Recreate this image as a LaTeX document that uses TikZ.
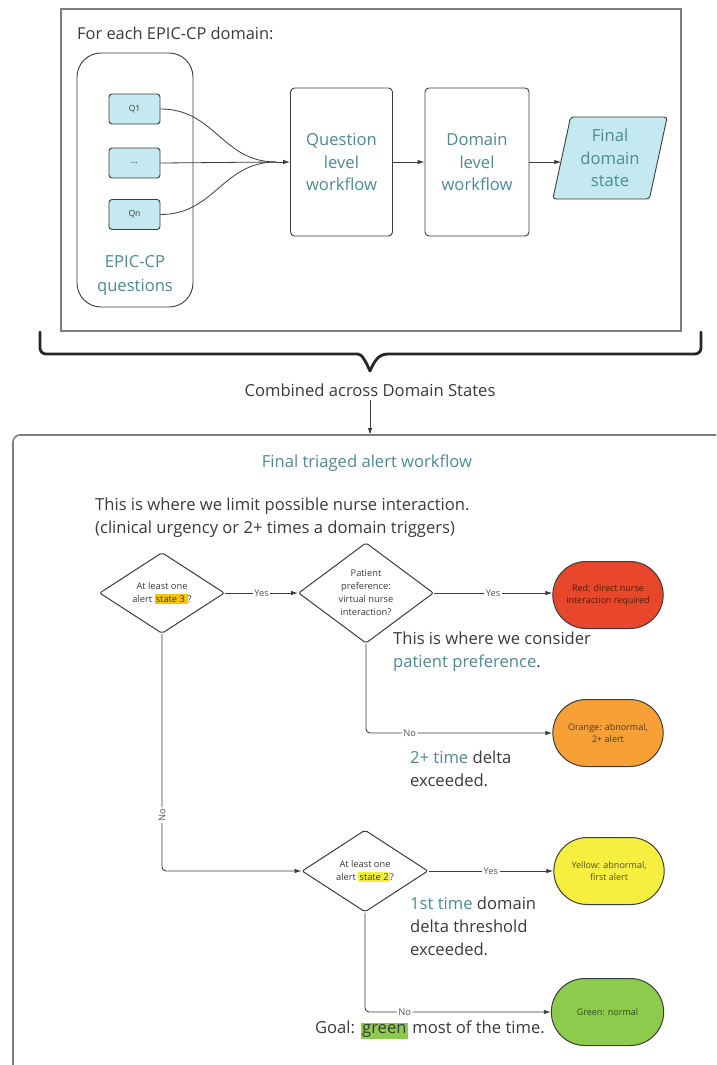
\documentclass[tikz,border=0pt]{standalone}
\usepackage{fontspec}
\setmainfont{Open Sans}
\usetikzlibrary{shapes.geometric,shapes.misc,arrows.meta,calc}
\definecolor{tealtxt}{RGB}{78,138,148}
\definecolor{darktxt}{RGB}{58,58,58}
\definecolor{linec}{RGB}{60,60,60}
\definecolor{boxgray}{RGB}{125,125,125}
\definecolor{cyanfill}{RGB}{196,233,240}
\definecolor{redfill}{RGB}{232,71,43}
\definecolor{orangefill}{RGB}{247,160,53}
\definecolor{yellowfill}{RGB}{247,239,63}
\definecolor{greenfill}{RGB}{140,203,75}
\definecolor{goldhl}{RGB}{247,198,0}
\definecolor{labelc}{RGB}{85,85,85}
\newcommand{\hlbox}[2]{{\setlength{\fboxsep}{1.2pt}\colorbox{#1}{#2}}}
\begin{document}
\begin{tikzpicture}[x=1pt,y=-1pt,
  qbox/.style={draw=linec, line width=0.9pt, fill=cyanfill, rounded corners=3pt, minimum width=51pt, minimum height=30pt, inner sep=0pt, font=\fontsize{8.5}{9}\selectfont, text=darktxt},
  wfbox/.style={draw=linec, line width=0.9pt, rounded corners=4pt, minimum width=102pt, minimum height=148pt, align=center, text=tealtxt, font=\fontsize{16.6}{22.5}\selectfont},
  dia/.style={diamond, draw=linec, line width=1pt, rounded corners=2pt, inner sep=0pt, align=center, font=\fontsize{9.3}{13}\selectfont, text=darktxt},
  term/.style={rounded rectangle, draw=linec, line width=1pt, minimum width=117pt, minimum height=67pt, align=center, font=\fontsize{9}{12.5}\selectfont, text=black, text opacity=0.65},
  lbl/.style={fill=white, inner sep=1.5pt, font=\fontsize{9.3}{10}\selectfont, text=labelc},
  conn/.style={draw=linec, line width=0.9pt, -{Latex[length=7pt,width=4.5pt]}},
  plain/.style={draw=linec, line width=0.8pt},
  note/.style={align=left, text=darktxt, font=\fontsize{16.6}{23}\selectfont, inner sep=0pt}
]
\useasboundingbox (0,0) rectangle (716,1065);
\fill[white] (0,0) rectangle (716,1065);

% ---------- top panel ----------
\draw[boxgray, line width=1.6pt] (61,9) rectangle (681,331);
\node[anchor=west, text=darktxt, font=\fontsize{16.4}{18}\selectfont, inner sep=0pt] (title1) at (77,33) {For each EPIC-CP domain:};
\draw[linec, line width=0.9pt, rounded corners=24pt] (77,53) rectangle (193,307);
\node[qbox] (q1) at (134.5,109) {Q1};
\node[qbox] (qd) at (134.5,163) {...};
\node[qbox] (qn) at (134.5,214.5) {Qn};
\node[align=center, text=tealtxt, font=\fontsize{16.6}{24}\selectfont] (epq) at (135,275) {EPIC-CP\\questions};

\node[wfbox] (qlw) at (341.5,162) {Question\\level\\workflow};
\node[wfbox, minimum width=104pt] (dlw) at (477,162) {Domain\\level\\workflow};
\node[trapezium, trapezium left angle=77, trapezium right angle=103, trapezium stretches=true,
      draw=linec, line width=0.9pt, fill=cyanfill, rounded corners=3pt, minimum width=115pt, minimum height=82pt,
      align=center, text=tealtxt, font=\fontsize{16.6}{22.5}\selectfont] (fds) at (610,158) {Final\\domain\\state};

\coordinate (conv) at (276,162);
\draw[plain] (q1.east) .. controls (215,109) and (222,162) .. (conv);
\draw[plain] (qd.east) -- (conv);
\draw[plain] (qn.east) .. controls (215,214.5) and (222,162) .. (conv);
\draw[conn] (conv) -- (qlw.west);
\draw[conn] (qlw.east) -- (dlw.west);
\draw[conn] (dlw.east) -- (dlw.east -| fds.west);

% ---------- brace ----------
\draw[black!85, line width=2.8pt, line cap=round, line join=round]
  (40,332) [rounded corners=6pt] -- (40,354) -- (352,354) [sharp corners]
  .. controls (362,354) and (366,362) .. (370,371)
  .. controls (374,362) and (378,354) .. (388,354) [rounded corners=6pt]
  -- (701,354) -- (701,332);

\node[text=darktxt, font=\fontsize{16.6}{18}\selectfont] (comb) at (370,390) {Combined across Domain States};
\coordinate (btop) at (370,435);
\draw[conn] (comb.south) -- (btop);

% ---------- bottom panel ----------
\draw[boxgray, line width=1.6pt, rounded corners=7pt] (716,435) -- (13,435) -- (13,1066);
\node[text=tealtxt, font=\fontsize{16.6}{18}\selectfont] (ftaw) at (367,463) {Final triaged alert workflow};
\node[note, anchor=west] (lim) at (95,517.5) {This is where we limit possible nurse interaction.\\(clinical urgency or 2+ times a domain triggers)};

\node[dia, minimum width=125pt, minimum height=81pt] (d1) at (162,593) {At least one\\alert \hlbox{goldhl}{state 3\,}?};
\node[dia, minimum width=135pt, minimum height=99pt] (d2) at (366,593) {Patient\\preference:\\virtual nurse\\interaction?};
\node[dia, minimum width=126pt, minimum height=82pt] (d3) at (365,871) {At least one\\alert \hlbox{yellowfill}{state 2}?};

\node[term, fill=redfill] (red) at (608,595) {Red: direct nurse\\interaction required};
\node[term, fill=orangefill] (orange) at (608,733) {Orange: abnormal,\\2+ alert};
\node[term, fill=yellowfill] (yellow) at (609,871) {Yellow: abnormal,\\first alert};
\node[term, fill=greenfill, minimum width=119pt] (green) at (607.5,1012) {Green: normal};

\draw[conn] (d1.east) -- node[lbl] {Yes} (d2.west);
\draw[conn] (d2.east) -- node[lbl] {Yes} (d2.east -| red.west);
\draw[conn, rounded corners=4pt] (d2.south) |- node[lbl, pos=0.617] {No} (orange.west);
\draw[conn, rounded corners=4pt] (d1.south) |- node[lbl, pos=0.382, rotate=90] {No} (d3.west);
\draw[conn] (d3.east) -- node[lbl] {Yes} (yellow.west);
\draw[conn, rounded corners=4pt] (d3.south) |- node[lbl, pos=0.607] {No} (green.west);

% ---------- notes ----------
\node[note, anchor=west] (n1) at (393,651.5) {This is where we consider\\\textcolor{tealtxt}{patient preference}.};
\node[note, anchor=west] (n2) at (410,768.5) {\textcolor{tealtxt}{2+ time} delta\\exceeded.};
\node[note, anchor=west] (n3) at (410,926) {\textcolor{tealtxt}{1st time} domain\\delta threshold\\exceeded.};
\node[note, anchor=east] (n4) at (545,1030) {Goal: {\setlength{\fboxsep}{1.5pt}\colorbox{greenfill}{green}} most of the time.};
\end{tikzpicture}
\end{document}
